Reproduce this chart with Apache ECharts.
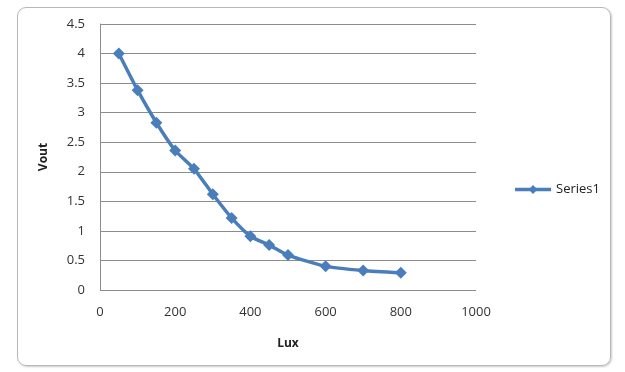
<!DOCTYPE html>
<html>
<head>
<meta charset="utf-8">
<script src="https://cdn.jsdelivr.net/npm/echarts@6/dist/echarts.min.js"></script>
</head>
<body style="margin:0;background:#fff">
<div style="position:absolute;left:17px;top:7px;width:592px;height:357px;border:1px solid #b8b8b8;border-radius:9px;box-shadow:1px 1px 2px #ccc"></div>
<div id="container" style="position:absolute;left:0;top:0;width:625px;height:372px"></div>
<script type="text/javascript">
var lux = [50, 100, 150, 200, 250, 300, 350, 400, 450, 500, 600, 700, 800];
var vout = [4.0, 3.38, 2.83, 2.36, 2.05, 1.62, 1.22, 0.91, 0.76, 0.59, 0.40, 0.33, 0.29];
var seriesName = 'Series1';

var points = lux.map(function (x, i) { return [x, vout[i]]; });

var myChart = echarts.init(document.getElementById('container'));
var font = 'Open Sans, DejaVu Sans, sans-serif';

var option = {
    animation: false,
    grid: { left: 100, right: 149, top: 24, bottom: 82 },
    legend: {
        data: [seriesName],
        right: 20,
        top: 178,
        itemWidth: 36,
        itemHeight: 11,
        itemGap: 4,
        lineStyle: { width: 3.5 },
        textStyle: { fontFamily: font, fontSize: 13, color: '#222' }
    },
    xAxis: {
        type: 'value',
        min: 0, max: 1000, interval: 200,
        name: 'Lux',
        nameLocation: 'middle',
        nameGap: 48,
        nameTextStyle: { fontFamily: font, fontSize: 12, fontWeight: 'bold', color: '#222' },
        axisLine: { show: false },
        axisTick: { show: false },
        splitLine: { show: false },
        axisLabel: {
            fontFamily: font, fontSize: 13, color: '#333', margin: 16,
            formatter: function (v) { return String(v); }
        }
    },
    yAxis: {
        type: 'value',
        min: 0, max: 4.5, interval: 0.5,
        name: 'Vout',
        nameLocation: 'middle',
        nameGap: 50,
        nameTextStyle: { fontFamily: font, fontSize: 12, fontWeight: 'bold', color: '#222' },
        axisLine: { show: true, lineStyle: { color: '#8c8c8c' } },
        axisTick: { show: false },
        splitLine: { lineStyle: { color: '#8c8c8c' } },
        axisLabel: { fontFamily: font, fontSize: 13, color: '#333', margin: 15 }
    },
    series: [{
        name: seriesName,
        type: 'line',
        data: points,
        smooth: 0.2,
        symbol: 'diamond',
        symbolSize: 12,
        lineStyle: { width: 3.5, color: '#4a7ebb' },
        itemStyle: { color: '#4a7ebb' }
    }]
};

myChart.setOption(option);
</script>
</body>
</html>
